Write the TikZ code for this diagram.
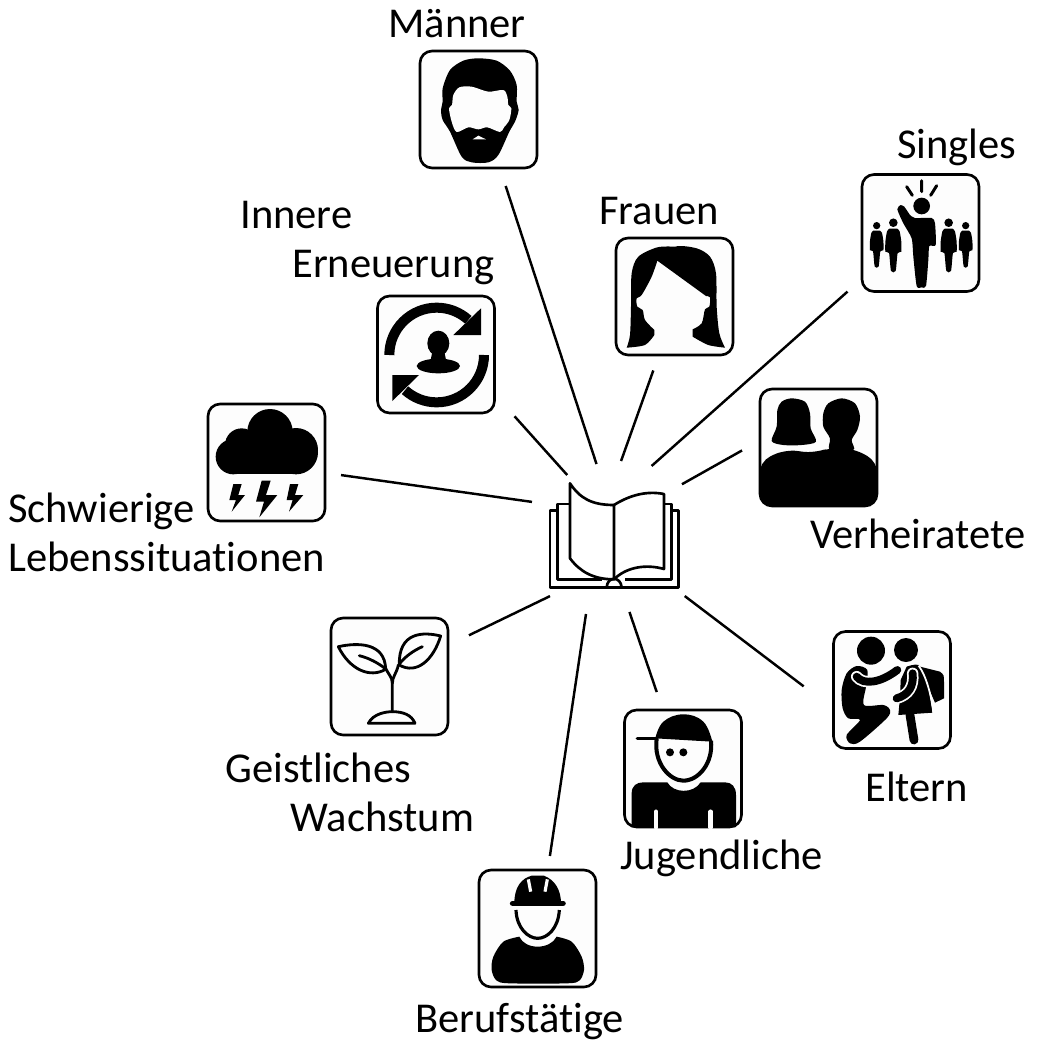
\documentclass[tikz,border=0pt]{standalone}
\usepackage{fontspec}
\setmainfont[Ligatures=NoCommon]{Carlito}
\usetikzlibrary{positioning}
\definecolor{boxfill}{HTML}{FDFDFD}

\begin{document}
\begin{tikzpicture}[
			x=0.02cm,
			y=-0.02cm,
			font=\fontsize{24.2}{27.8}\selectfont,
			iconbox/.style={
				rectangle,
				rounded corners=0.24cm,
				draw=black,
				line width=1.5pt,
				minimum size=2.34cm,
				inner sep=0pt,
				outer sep=0pt,
				fill=boxfill
			},
			tag/.style={
				inner sep=0pt,
				align=left,
				anchor=base west
			},
			link/.style 2 args={
				line width=1.4pt,
				shorten <=#1*0.02cm,
				shorten >=#2*0.02cm
			},
			zoomed/.style={
				shift={(#1)},
				scale=1/3
			},
			crowd/.pic={
				\fill (0,-18) circle (13);
				\fill plot[smooth, tension=0.4] coordinates {(-12,0)(-19,8)(-24,38)(-24,70)(-13,74)(-7,128)(7,128)(13,74)(24,70)(24,38)(19,8)(12,0)} -- cycle;
			}
			]
			\useasboundingbox (0,0) rectangle (1040,1042);
			
			% We start by placing the blocks
			
			\node [iconbox] (maenner) at (478.5,109.5) {};
			\node [iconbox] (frauen) at (674.5,296.5) {};
			\node [iconbox] (singles) at (920.5,233) {};
			\node [iconbox] (erneuerung) at (436,354.5) {};
			\node [iconbox] (schwierig) at (266.5,462.5) {};
			\node [iconbox] (verheiratet) at (818.5,447.5) {};
			\node [iconbox] (wachstum) at (389.5,676.5) {};
			\node [iconbox] (eltern) at (892,690) {};
			\node [iconbox] (jugend) at (683,768.5) {};
			\node [iconbox] (beruf) at (537.5,928.5) {};
			\node [minimum width=2.58cm, minimum height=2.1cm, inner sep=0pt, outer sep=0pt] (book) at (614.5,534.5) {};
			
			% Labels
			
			\node [tag] (maennerText) at (388,37) {Männer};
			\node [tag] (frauenText) at (599,224) {Frauen};
			\node [tag] (singlesText) at (897,158) {Singles};
			\node [tag, anchor=north west] (erneuerungText) at (240,201) {Innere\\\hspace*{1.04cm}Erneuerung};
			\node [tag, anchor=north west] (schwierigText) at (8,493) {Schwierige\\Lebenssituationen};
			\node [tag] (verheiratetText) at (810,548) {Verheiratete};
			\node [tag, anchor=north west] (wachstumText) at (225,753) {Geistliches\\\hspace*{1.3cm}Wachstum};
			\node [tag] (elternText) at (865,801) {Eltern};
			\node [tag] (jugendText) at (620,869) {Jugendliche};
			\node [tag] (berufText) at (415,1032) {Berufstätige};
			
			% Connectors
			
			\draw [link={18.9}{18.9}] (book.103.5) -- (maenner.-70.9);
			\draw [link={22.3}{16.4}] (book.91.1) -- (frauen.-105.2);
			\draw [link={24.1}{19.4}] (book.70.6) -- (singles.-142);
			\draw [link={9.4}{30}] (book.128.1) -- (erneuerung.-34.3);
			\draw [link={18.2}{16.2}] (book.155.9) -- (schwierig.-10.7);
			\draw [link={3.4}{20.6}] (book.37.1) -- (verheiratet.173.7);
			\draw [link={21}{23.3}] (book.-131) -- (wachstum.28.6);
			\draw [link={15}{37.5}] (book.-42.9) -- (eltern.-162.6);
			\draw [link={26.4}{19}] (book.-83.5) -- (jugend.109.3);
			\draw [link={27.3}{14.2}] (book.-115) -- (beruf.80.1);
			
			% Icon of the book
			\begin{scope}[zoomed={190,390}, line width=1.5pt, line join=round]
				\draw (1102,362) -- (1080,362) -- (1080,592) -- (1465,592) -- (1465,362) -- (1445,362);
				\draw (1140,342) -- (1102,342) -- (1102,568) -- (1235,568);
				\draw (1422,342) -- (1445,342) -- (1445,568) -- (1305,568);
				\draw (1272,345) .. controls (1205,345) and (1170,325) .. (1140,280) -- (1140,505) .. controls (1170,545) and (1210,568) .. (1272,568) -- cycle;
				\draw (1272,345) .. controls (1320,315) and (1370,302) .. (1422,312) -- (1422,537) .. controls (1370,522) and (1310,530) .. (1272,568);
				\draw (1250,592) .. controls (1252,558) and (1292,558) .. (1295,592);
			\end{scope}
			
			% Icons of the men and women
			\begin{scope}[zoomed={400,40}]
				\fill plot[smooth cycle, tension=0.5] coordinates {(235,55)(290,62)(330,92)(350,135)(350,185)(356,210)(345,245)(328,275)(295,345)(265,367)(215,367)(185,350)(150,275)(128,240)(123,210)(128,185)(128,145)(150,90)(190,62)};
				\fill [boxfill] plot[smooth cycle, tension=0.5] coordinates {(160,165)(178,142)(215,140)(265,155)(310,150)(322,170)(325,195)(334,205)(328,240)(312,262)(300,276)(262,262)(235,268)(205,262)(170,276)(155,245)(147,205)(156,195)};
				\fill [boxfill] (218,298) -- (235,287) -- (258,298) -- cycle;
				
				\fill plot[smooth, tension=0.5] coordinates {(772,662)(825,620)(890,625)(930,650)(948,700)(950,800)(958,880)(975,923)}
					-- plot[smooth, tension=0.5] coordinates {(975,923)(925,915)(878,890)}
					-- plot[smooth, tension=0.5] coordinates {(878,868)(905,850)(915,808)(928,800)(930,772)(918,768)} -- (772,662)
					-- plot[smooth, tension=0.5] coordinates {(772,662)(755,710)(725,765)(710,775)(712,800)(728,810)(735,840)(763,870)}
					-- plot[smooth, tension=0.5] coordinates {(763,885)(735,915)(680,923)}
					-- plot[smooth, tension=0.5] coordinates {(680,923)(690,885)(693,800)(695,700)(715,650)(772,622)(825,620)} -- cycle;
			\end{scope}
			
			% Icon of the singles
			\begin{scope}[zoomed={740,160}]
				\fill (545,138) circle (25);
				\draw [line width=1.7pt, line cap=round] (500,80) -- (517,106) (545,62) -- (545,95) (590,77) -- (572,106);
				\fill plot[smooth, tension=0.4] coordinates {(493,140)(482,135)(472,148)(490,190)(515,235)(520,290)(530,378)(545,382)(558,378)(565,300)(568,258)(587,255)(585,190)(575,174)(525,174)(510,165)} -- cycle;
				\foreach \px/\py/\pscale in {410/212/0.28, 460/206/0.33, 626/206/0.33, 677/212/0.28}
					\pic [transform shape, scale=\pscale*3] at (\px,\py) {crowd};
			\end{scope}
			
			% Icon of the married
			\begin{scope}[zoomed={740,160}]
				\fill plot[smooth cycle, tension=0.5] coordinates {(155,715)(195,725)(210,760)(212,805)(228,845)(185,855)(130,855)(95,843)(110,800)(112,750)(125,725)};
				\fill plot[smooth cycle, tension=0.5] coordinates {(305,715)(345,730)(360,770)(352,810)(335,840)(340,870)(270,870)(270,835)(250,800)(250,760)(265,730)};
				\fill [rounded corners=0.24cm] (58,905) -- (135,868) -- (225,880) -- (270,862) -- (340,865) -- (413,905) -- (413,1037) -- (58,1037) -- cycle;
			\end{scope}
			
			% Icon of the renewal
			\begin{scope}[zoomed={370,290}]
				\draw [line width=5.7pt] (58,195) arc [start angle=180, end angle=312, radius=142];
				\fill (333,55) -- (333,135) -- (250,135) -- cycle;
				\draw [line width=5.7pt] (342,195) arc [start angle=0, end angle=132, radius=142];
				\fill (67,333) -- (67,255) -- (147,255) -- cycle;
				\fill (205,160) ellipse [x radius=33, y radius=38];
				\fill (188,180) -- (222,180) -- (228,210) -- (182,210) -- cycle;
				\fill (205,228) ellipse [x radius=65, y radius=22];
			\end{scope}
			
			% Icon of the storm
			\begin{scope}[zoomed={190,390}]
				\fill (240,125) circle (68);
				\fill (155,165) circle (50);
				\fill (318,180) circle (66);
				\fill (318,187) circle (66);
				\fill (130,200) circle (53);
				\fill (130,180) rectangle (320,253);
				\fill (215,272) -- (242,272) -- (228,315) -- (262,315) -- (208,382) -- (222,335) -- (198,335) -- cycle;
				\fill (130,282) -- (155,282) -- (145,315) -- (165,315) -- (125,365) -- (138,330) -- (118,330) -- cycle;
				\fill (300,282) -- (325,282) -- (315,315) -- (340,315) -- (297,365) -- (308,330) -- (290,330) -- cycle;
			\end{scope}
			
			% Icon of the plant
			\begin{scope}[zoomed={190,390}, line width=1.6pt, line cap=round, line join=round]
				\draw (607,965) -- (607,880) .. controls (607,860) and (595,855) .. (585,830);
				\draw (607,880) .. controls (607,860) and (620,850) .. (625,825);
				\draw (445,770) .. controls (500,758) and (585,755) .. (587,838) .. controls (540,865) and (480,840) .. (445,770) -- cycle;
				\draw (508,797) .. controls (540,805) and (565,820) .. (585,835);
				\draw (752,738) .. controls (700,725) and (625,725) .. (628,825) .. controls (680,855) and (730,810) .. (752,738) -- cycle;
				\draw (697,770) .. controls (670,782) and (645,800) .. (628,822);
				\draw (535,1000) .. controls (550,970) and (590,965) .. (607,965) .. controls (640,965) and (665,975) .. (675,1000) -- cycle;
			\end{scope}
			
			% Icon of the parents
			\begin{scope}[zoomed={460,620}]
				\fill (1233,92) circle (42);
				\fill (1338,90) circle (36);
				\fill plot[smooth cycle, tension=0.5] coordinates {(1190,138)(1222,150)(1218,200)(1212,255)(1270,255)(1290,270)(1280,295)(1200,365)(1170,370)(1160,345)(1200,300)(1165,295)(1148,265)(1145,210)(1160,160)};
				\fill (1380,140) -- (1440,155) .. controls (1452,165) .. (1452,185) -- (1452,235) -- (1425,248) -- (1400,190) -- cycle;
				\fill plot[smooth, tension=0.5] coordinates {(1340,140)(1375,135)(1398,175)(1410,230)(1418,278)} -- (1315,285) -- plot[smooth, tension=0.5] coordinates {(1315,285)(1320,230)(1322,180)} -- cycle;
				\draw [boxfill, line width=1pt] (1376,137) .. controls (1400,170) and (1415,230) .. (1420,280);
				\draw [line width=5pt, line cap=round] (1350,285) -- (1362,360);
				\draw [boxfill, line width=6.5pt, line cap=round] (1190,170) .. controls (1210,195) and (1260,190) .. (1312,150);
				\draw [line width=4.5pt, line cap=round] (1190,170) .. controls (1210,195) and (1260,190) .. (1312,150);
				\draw [boxfill, line width=6.5pt, line cap=round] (1358,160) .. controls (1362,200) and (1345,225) .. (1310,235);
				\draw [line width=4.5pt, line cap=round] (1358,160) .. controls (1362,200) and (1345,225) .. (1310,235);
			\end{scope}
			
			% Icon of the youth
			\begin{scope}[zoomed={460,620}]
				\fill plot[smooth, tension=0.7] coordinates {(586,355)(610,305)(670,283)(730,305)(757,365)} -- cycle;
				\draw [line width=2pt, line cap=round] (532,356) -- (590,356);
				\draw [line width=2.3pt] (590,356) .. controls (580,430) and (630,482) .. (670,482) .. controls (715,482) and (760,430) .. (753,362);
				\fill (630,397) circle (12);
				\fill (670,397) circle (12);
				\fill (515,621) -- (515,520) .. controls (515,497) and (530,487) .. (550,487) -- (622,487) .. controls (640,520) and (700,522) .. (722,487) -- (795,487) .. controls (815,487) and (828,500) .. (828,525) -- (828,621) -- cycle;
				\draw [boxfill, line width=2.5pt, line cap=round] (588,575) -- (588,622) (752,575) -- (752,622);
			\end{scope}
			
			% Icon of the workers
			\begin{scope}[zoomed={460,620}]
				\fill (163,850) .. controls (163,800) and (185,775) .. (215,767) -- (252,767) .. controls (285,780) and (303,810) .. (303,850) -- cycle;
				\draw [line width=3.2pt, line cap=round] (158,850) -- (309,850);
				\draw [boxfill, line width=1.8pt] (205,778) -- (212,815) (262,778) -- (255,815);
				\draw [line width=1.8pt] (168,870) .. controls (170,925) and (205,955) .. (233,955) .. controls (262,955) and (295,925) .. (298,870);
				\fill plot[smooth, tension=0.5] coordinates {(178,950)(130,965)(100,1010)(95,1050)(110,1082)(150,1090)(320,1090)(358,1082)(372,1050)(365,1010)(335,965)(290,950)} .. controls (270,990) and (195,990) .. (178,950) -- cycle;
			\end{scope}
			
			\end{tikzpicture}
\end{document}
